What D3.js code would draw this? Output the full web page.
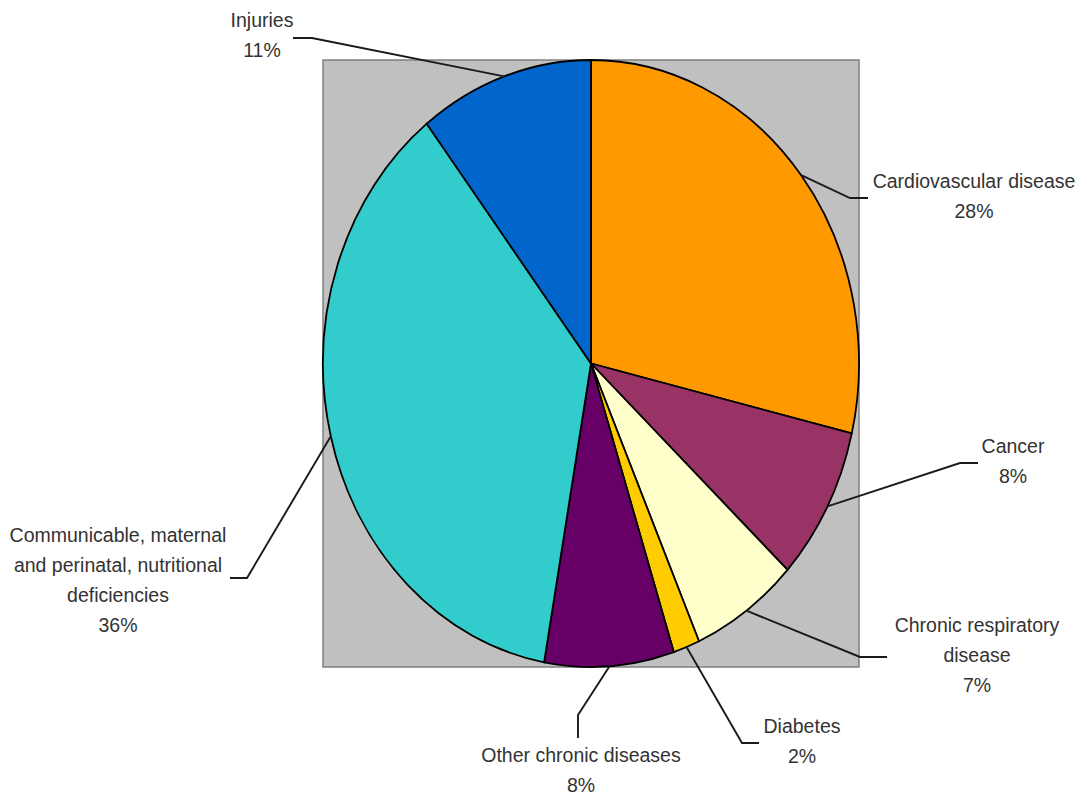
<!DOCTYPE html>
<html>
<head>
<meta charset="utf-8">
<script src="https://cdn.jsdelivr.net/npm/d3@7"></script>
<style>
  html, body { margin: 0; padding: 0; background: #ffffff; }
  svg { display: block; }
  text { font-family: "Liberation Sans", Arial, sans-serif; font-size: 19.5px; fill: #333333; }
</style>
</head>
<body>
<svg id="chart" width="1087" height="797"></svg>
<script>
// ---- data ----
const categories = [
  "Cardiovascular disease",
  "Cancer",
  "Chronic respiratory disease",
  "Diabetes",
  "Other chronic diseases",
  "Communicable, maternal and perinatal, nutritional deficiencies",
  "Injuries"
];
const values = [28.7, 8.2, 6.5, 1.6, 7.8, 36.7, 10.5];
const percentLabels = ["28%", "8%", "7%", "2%", "8%", "36%", "11%"];
const labelLines = [
  ["Cardiovascular disease"],
  ["Cancer"],
  ["Chronic respiratory", "disease"],
  ["Diabetes"],
  ["Other chronic diseases"],
  ["Communicable, maternal", "and perinatal, nutritional", "deficiencies"],
  ["Injuries"]
];
const colors = ["#FF9900", "#993366", "#FFFFCC", "#FFCC00", "#660066", "#33CCCC", "#0066CC"];

// ---- layout (annotation placement) ----
const plot = { x0: 323, y0: 60, x1: 859, y1: 667 };
const labelLayout = [
  { elbow: [850, 198], end: [868, 198], tx: 974, ty: 188 },
  { elbow: [960, 463], end: [978, 463], tx: 1013, ty: 453 },
  { elbow: [860, 657], end: [887, 657], tx: 977, ty: 632 },
  { elbow: [742, 743], end: [759, 743], tx: 802, ty: 733 },
  { elbow: [578, 715], end: [578, 738], tx: 581, ty: 762 },
  { elbow: [247, 578], end: [230, 578], tx: 118, ty: 542 },
  { elbow: [312, 38],  end: [293, 38],  tx: 262, ty: 27 }
];
const lineHeight = 30;

const svg = d3.select("#chart");

// plot area background
svg.append("rect")
  .attr("x", plot.x0).attr("y", plot.y0)
  .attr("width", plot.x1 - plot.x0).attr("height", plot.y1 - plot.y0)
  .attr("fill", "#C0C0C0")
  .attr("stroke", "#808080").attr("stroke-width", 1.5);

const cx = (plot.x0 + plot.x1) / 2;
const cy = (plot.y0 + plot.y1) / 2;
const rx = (plot.x1 - plot.x0) / 2;
const ry = (plot.y1 - plot.y0) / 2;
const R = 100;

const pie = d3.pie().sort(null).value(d => d).startAngle(0).endAngle(2 * Math.PI);
const arcs = pie(values);
const arc = d3.arc().innerRadius(0).outerRadius(R);

const g = svg.append("g")
  .attr("transform", `translate(${cx},${cy}) scale(${rx / R},${ry / R})`);

g.selectAll("path")
  .data(arcs)
  .join("path")
  .attr("d", arc)
  .attr("fill", (d, i) => colors[i])
  .attr("stroke", "#000")
  .attr("stroke-width", 1.8)
  .attr("vector-effect", "non-scaling-stroke");

// leader lines
const line = d3.line();
svg.selectAll("path.leader")
  .data(arcs)
  .join("path")
  .attr("class", "leader")
  .attr("fill", "none")
  .attr("stroke", "#1a1a1a")
  .attr("stroke-width", 1.9)
  .attr("d", (d, i) => {
    const a = (d.startAngle + d.endAngle) / 2;
    const p0 = [cx + rx * Math.sin(a), cy - ry * Math.cos(a)];
    const L = labelLayout[i];
    return line([p0, L.elbow, L.end]);
  });

// labels
arcs.forEach((d, i) => {
  const L = labelLayout[i];
  const lines = labelLines[i].concat([percentLabels[i]]);
  const t = svg.append("text")
    .attr("text-anchor", "middle")
    .attr("x", L.tx).attr("y", L.ty);
  lines.forEach((s, k) => {
    t.append("tspan").attr("x", L.tx).attr("y", L.ty + k * lineHeight).text(s);
  });
});
</script>
</body>
</html>
